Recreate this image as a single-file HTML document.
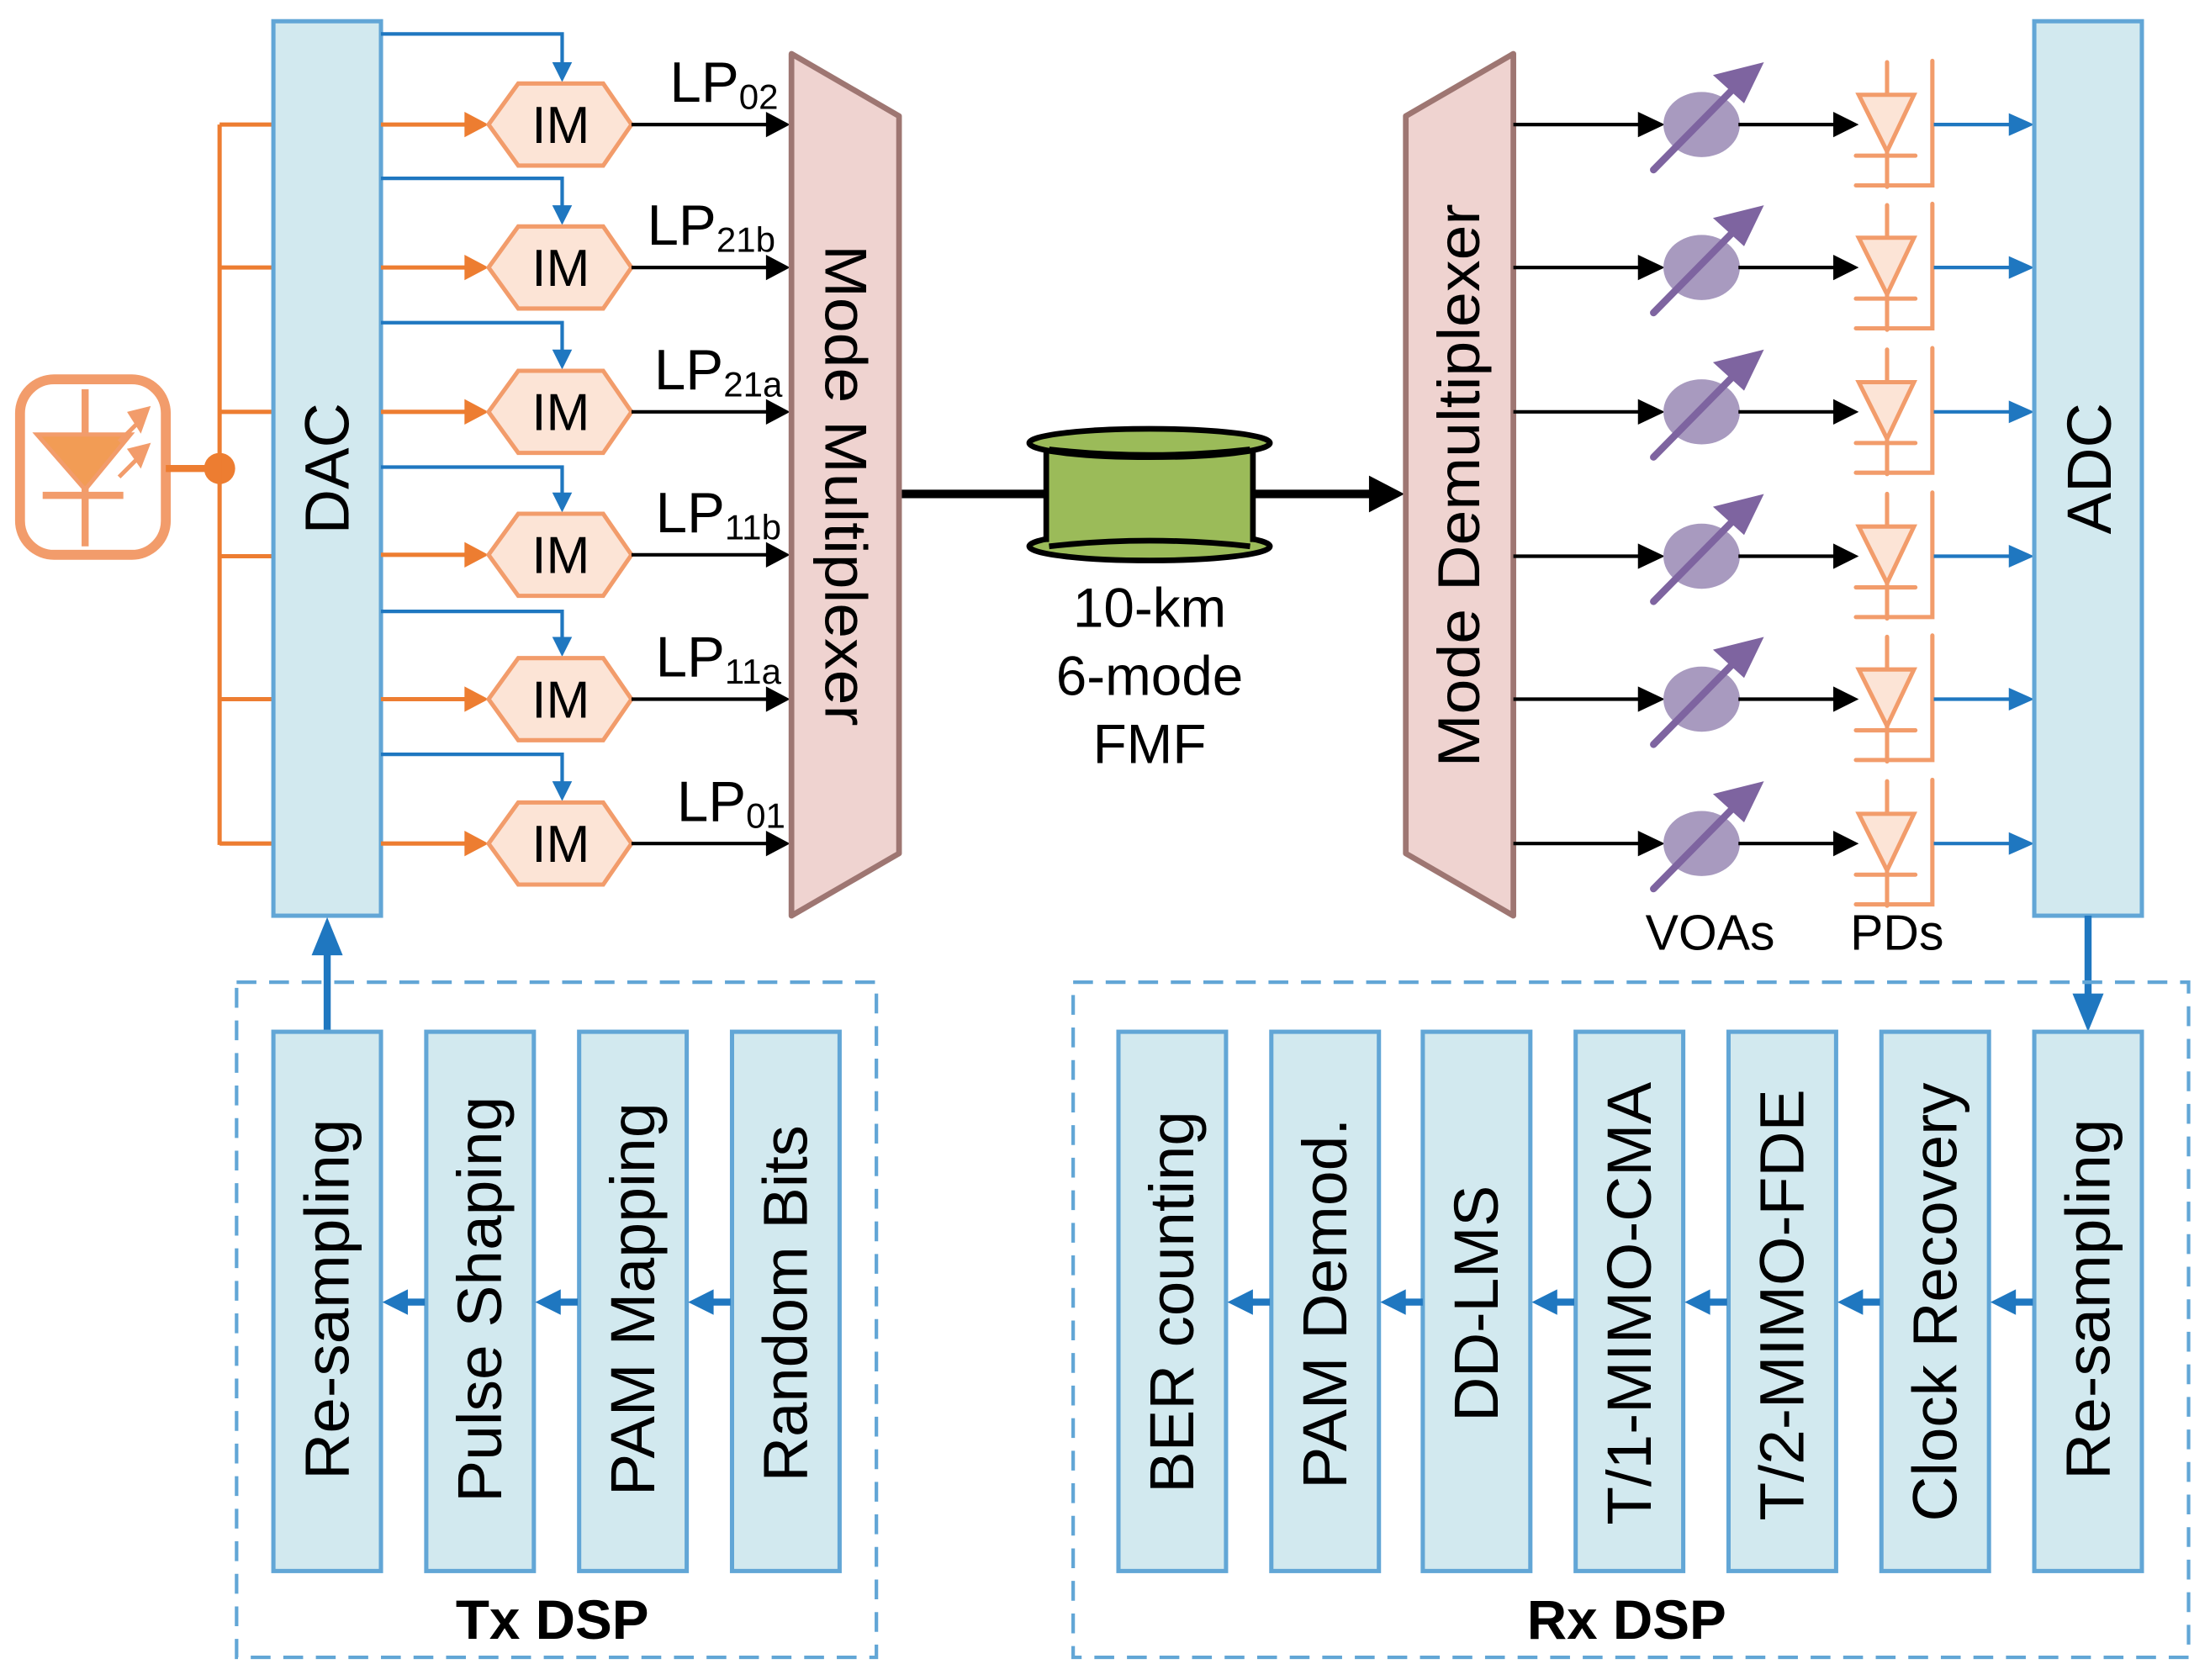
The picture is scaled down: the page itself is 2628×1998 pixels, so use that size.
<!DOCTYPE html>
<html><head><meta charset="utf-8"><style>html,body{margin:0;padding:0;background:#fff}svg{display:block}</style></head>
<body>
<svg width="2628" height="1998" viewBox="0 0 1561 1187" xmlns="http://www.w3.org/2000/svg" font-family="Liberation Sans, Arial, sans-serif">
<rect width="1561" height="1187" fill="#fff"/>

<!-- laser -->
<rect x="14" y="268" width="103" height="124" rx="24" fill="#fff" stroke="#F29C6B" stroke-width="7"/>
<line x1="60" y1="275" x2="60" y2="386" stroke="#F29C6B" stroke-width="5"/>
<path d="M26,307 L92,307 L60,346 Z" fill="#F29C55" stroke="#F29C6B" stroke-width="3"/>
<line x1="30" y1="350" x2="87" y2="350" stroke="#F29C6B" stroke-width="5"/>
<path d="M84,312 L97,299 M92,292 L104,289 L99,303 Z" stroke="#F29C6B" stroke-width="3" fill="#F29C6B"/>
<path d="M84,337 L97,324 M92,318 L104,315 L99,328 Z" stroke="#F29C6B" stroke-width="3" fill="#F29C6B"/>
<line x1="117" y1="331" x2="155" y2="331" stroke="#ED7D31" stroke-width="5"/>
<circle cx="155" cy="331" r="11" fill="#ED7D31"/>
<line x1="155" y1="88" x2="155" y2="597" stroke="#ED7D31" stroke-width="3"/>
<g stroke="#ED7D31" stroke-width="3">
<line x1="155" y1="88" x2="193" y2="88"/><line x1="155" y1="189" x2="193" y2="189"/><line x1="155" y1="291" x2="193" y2="291"/>
<line x1="155" y1="393" x2="193" y2="393"/><line x1="155" y1="494" x2="193" y2="494"/><line x1="155" y1="596" x2="193" y2="596"/>
</g>

<!-- DAC -->
<rect x="193" y="15" width="76" height="632" fill="#D2E9EF" stroke="#62A6D6" stroke-width="3"/>
<text transform="translate(246,331) rotate(-90)" text-anchor="middle" font-size="44">DAC</text>

<g font-size="37">
<g transform="translate(0,88)">
<line x1="269" y1="0" x2="330" y2="0" stroke="#ED7D31" stroke-width="3"/><path d="M328,-9 L345,0 L328,9z" fill="#ED7D31"/>
<polyline points="269,-64 397,-64 397,-44" fill="none" stroke="#1F77C0" stroke-width="2.5"/><path d="M390,-44 L404,-44 L397,-30z" fill="#1F77C0"/>
<polygon points="345,0 366,-29 426,-29 446,0 426,29 366,29" fill="#FCE4D6" stroke="#F29C6B" stroke-width="3"/>
<text x="396" y="13" text-anchor="middle">IM</text>
<line x1="446" y1="0" x2="543" y2="0" stroke="#000" stroke-width="2.5"/><path d="M541,-9 L558,0 L541,9z"/>
<text x="473" y="-16" font-size="40">LP<tspan font-size="25" dy="5">02</tspan></text>
</g>
<g transform="translate(0,189)">
<line x1="269" y1="0" x2="330" y2="0" stroke="#ED7D31" stroke-width="3"/><path d="M328,-9 L345,0 L328,9z" fill="#ED7D31"/>
<polyline points="269,-63 397,-63 397,-43" fill="none" stroke="#1F77C0" stroke-width="2.5"/><path d="M390,-44 L404,-44 L397,-30z" fill="#1F77C0"/>
<polygon points="345,0 366,-29 426,-29 446,0 426,29 366,29" fill="#FCE4D6" stroke="#F29C6B" stroke-width="3"/>
<text x="396" y="13" text-anchor="middle">IM</text>
<line x1="446" y1="0" x2="543" y2="0" stroke="#000" stroke-width="2.5"/><path d="M541,-9 L558,0 L541,9z"/>
<text x="457" y="-16" font-size="40">LP<tspan font-size="25" dy="5">21b</tspan></text>
</g>
<g transform="translate(0,291)">
<line x1="269" y1="0" x2="330" y2="0" stroke="#ED7D31" stroke-width="3"/><path d="M328,-9 L345,0 L328,9z" fill="#ED7D31"/>
<polyline points="269,-63 397,-63 397,-43" fill="none" stroke="#1F77C0" stroke-width="2.5"/><path d="M390,-44 L404,-44 L397,-30z" fill="#1F77C0"/>
<polygon points="345,0 366,-29 426,-29 446,0 426,29 366,29" fill="#FCE4D6" stroke="#F29C6B" stroke-width="3"/>
<text x="396" y="13" text-anchor="middle">IM</text>
<line x1="446" y1="0" x2="543" y2="0" stroke="#000" stroke-width="2.5"/><path d="M541,-9 L558,0 L541,9z"/>
<text x="462" y="-16" font-size="40">LP<tspan font-size="25" dy="5">21a</tspan></text>
</g>
<g transform="translate(0,392)">
<line x1="269" y1="0" x2="330" y2="0" stroke="#ED7D31" stroke-width="3"/><path d="M328,-9 L345,0 L328,9z" fill="#ED7D31"/>
<polyline points="269,-62 397,-62 397,-43" fill="none" stroke="#1F77C0" stroke-width="2.5"/><path d="M390,-44 L404,-44 L397,-30z" fill="#1F77C0"/>
<polygon points="345,0 366,-29 426,-29 446,0 426,29 366,29" fill="#FCE4D6" stroke="#F29C6B" stroke-width="3"/>
<text x="396" y="13" text-anchor="middle">IM</text>
<line x1="446" y1="0" x2="543" y2="0" stroke="#000" stroke-width="2.5"/><path d="M541,-9 L558,0 L541,9z"/>
<text x="463" y="-16" font-size="40">LP<tspan font-size="25" dy="5">11b</tspan></text>
</g>
<g transform="translate(0,494)">
<line x1="269" y1="0" x2="330" y2="0" stroke="#ED7D31" stroke-width="3"/><path d="M328,-9 L345,0 L328,9z" fill="#ED7D31"/>
<polyline points="269,-62 397,-62 397,-43" fill="none" stroke="#1F77C0" stroke-width="2.5"/><path d="M390,-44 L404,-44 L397,-30z" fill="#1F77C0"/>
<polygon points="345,0 366,-29 426,-29 446,0 426,29 366,29" fill="#FCE4D6" stroke="#F29C6B" stroke-width="3"/>
<text x="396" y="13" text-anchor="middle">IM</text>
<line x1="446" y1="0" x2="543" y2="0" stroke="#000" stroke-width="2.5"/><path d="M541,-9 L558,0 L541,9z"/>
<text x="463" y="-16" font-size="40">LP<tspan font-size="25" dy="5">11a</tspan></text>
</g>
<g transform="translate(0,596)">
<line x1="269" y1="0" x2="330" y2="0" stroke="#ED7D31" stroke-width="3"/><path d="M328,-9 L345,0 L328,9z" fill="#ED7D31"/>
<polyline points="269,-63 397,-63 397,-43" fill="none" stroke="#1F77C0" stroke-width="2.5"/><path d="M390,-44 L404,-44 L397,-30z" fill="#1F77C0"/>
<polygon points="345,0 366,-29 426,-29 446,0 426,29 366,29" fill="#FCE4D6" stroke="#F29C6B" stroke-width="3"/>
<text x="396" y="13" text-anchor="middle">IM</text>
<line x1="446" y1="0" x2="543" y2="0" stroke="#000" stroke-width="2.5"/><path d="M541,-9 L558,0 L541,9z"/>
<text x="478" y="-16" font-size="40">LP<tspan font-size="25" dy="5">01</tspan></text>
</g>
</g>

<!-- Mux -->
<polygon points="559,38 635,82 635,603 559,647" fill="#EFD3D0" stroke="#9E7672" stroke-width="4" stroke-linejoin="round"/>
<text transform="translate(583,343) rotate(90)" text-anchor="middle" font-size="42" textLength="340" lengthAdjust="spacingAndGlyphs">Mode Multiplexer</text>

<!-- fiber -->
<line x1="637" y1="349" x2="740" y2="349" stroke="#000" stroke-width="6"/>
<line x1="885" y1="349" x2="970" y2="349" stroke="#000" stroke-width="6"/>
<path d="M967,336 L992,349 L967,362z"/>
<ellipse cx="812" cy="386" rx="85" ry="10" fill="#9BBB59" stroke="#000" stroke-width="4"/>
<rect x="739" y="318" width="146" height="68" fill="#9BBB59"/>
<line x1="739" y1="318" x2="739" y2="383" stroke="#000" stroke-width="4"/>
<line x1="885" y1="318" x2="885" y2="383" stroke="#000" stroke-width="4"/>
<path d="M741,386 Q812,378 883,386" fill="none" stroke="#000" stroke-width="4"/>
<ellipse cx="812" cy="313" rx="85" ry="10" fill="#9BBB59" stroke="#000" stroke-width="4"/>
<path d="M741,318 Q812,326 883,318" fill="none" stroke="#000" stroke-width="5"/>
<g font-size="39" text-anchor="middle">
<text x="812" y="443">10-km</text>
<text x="812" y="491">6-mode</text>
<text x="812" y="539">FMF</text>
</g>

<!-- Demux -->
<polygon points="993,82 1069,38 1069,647 993,603" fill="#EFD3D0" stroke="#9E7672" stroke-width="4" stroke-linejoin="round"/>
<text transform="translate(1045,343) rotate(-90)" text-anchor="middle" font-size="42" textLength="398" lengthAdjust="spacingAndGlyphs">Mode Demultiplexer</text>

<!-- right rows -->
<g id="rr">
<g transform="translate(0,88)">
<line x1="1069" y1="0" x2="1160" y2="0" stroke="#000" stroke-width="2.5"/><path d="M1157,-9 L1176,0 L1157,9z"/>
<ellipse cx="1202" cy="0" rx="27" ry="23" fill="#A89ABF"/>
<line x1="1228" y1="0" x2="1298" y2="0" stroke="#000" stroke-width="2.5"/><path d="M1295,-9 L1313,0 L1295,9z"/>
<line x1="1168" y1="32" x2="1232" y2="-33" stroke="#7E64A0" stroke-width="5" stroke-linecap="round"/>
<path d="M1246,-44 L1210,-35 L1232,-15z" fill="#7E64A0"/>
<g stroke="#F29C6B" stroke-width="3" fill="none" stroke-linecap="round">
<line x1="1333" y1="-44" x2="1333" y2="44"/><polygon points="1313,-21 1352,-21 1333,19" fill="#FCE4D6"/>
<line x1="1311" y1="22" x2="1353" y2="22"/><polyline points="1311,43 1365,43 1365,-45"/>
</g>
<line x1="1366" y1="0" x2="1422" y2="0" stroke="#1F77C0" stroke-width="2.5"/><path d="M1419,-8 L1437,0 L1419,8z" fill="#1F77C0"/>
</g>
</g>
<use href="#rr" y="101"/>
<use href="#rr" y="203"/>
<use href="#rr" y="305"/>
<use href="#rr" y="406"/>
<use href="#rr" y="508"/>
<text x="1208" y="671" text-anchor="middle" font-size="35">VOAs</text>
<text x="1340" y="671" text-anchor="middle" font-size="35">PDs</text>

<!-- ADC -->
<rect x="1437" y="15" width="76" height="632" fill="#D2E9EF" stroke="#62A6D6" stroke-width="3"/>
<text transform="translate(1491,331) rotate(-90)" text-anchor="middle" font-size="44">ADC</text>

<!-- vertical connectors -->
<line x1="1475" y1="647" x2="1475" y2="705" stroke="#1F77C0" stroke-width="5"/>
<path d="M1464,702 L1486,702 L1475,729z" fill="#1F77C0"/>
<line x1="231" y1="729" x2="231" y2="672" stroke="#1F77C0" stroke-width="5"/>
<path d="M220,675 L242,675 L231,648z" fill="#1F77C0"/>

<!-- Tx DSP -->
<rect x="167" y="694" width="452" height="477" fill="none" stroke="#62A6D6" stroke-width="2.5" stroke-dasharray="14,9"/>
<g fill="#D2E9EF" stroke="#62A6D6" stroke-width="3">
<rect x="193" y="729" width="76" height="381"/><rect x="301" y="729" width="76" height="381"/>
<rect x="409" y="729" width="76" height="381"/><rect x="517" y="729" width="76" height="381"/>
</g>
<g font-size="44" text-anchor="middle">
<text transform="translate(246,918) rotate(-90)" textLength="255" lengthAdjust="spacingAndGlyphs">Re-sampling</text>
<text transform="translate(354,918) rotate(-90)" textLength="287" lengthAdjust="spacingAndGlyphs">Pulse Shaping</text>
<text transform="translate(462,918) rotate(-90)" textLength="278" lengthAdjust="spacingAndGlyphs">PAM Mapping</text>
<text transform="translate(570,921) rotate(-90)" textLength="252" lengthAdjust="spacingAndGlyphs">Random Bits</text>
</g>
<g id="la">
<line x1="286" y1="920" x2="300" y2="920" stroke="#1F77C0" stroke-width="5"/><path d="M288,911 L270,920 L288,929z" fill="#1F77C0"/>
</g>
<use href="#la" x="108"/><use href="#la" x="216"/>
<text x="390" y="1158" text-anchor="middle" font-size="39" font-weight="bold">Tx DSP</text>

<!-- Rx DSP -->
<rect x="758" y="694" width="788" height="477" fill="none" stroke="#62A6D6" stroke-width="2.5" stroke-dasharray="14,9"/>
<g fill="#D2E9EF" stroke="#62A6D6" stroke-width="3">
<rect x="790" y="729" width="76" height="381"/><rect x="898" y="729" width="76" height="381"/>
<rect x="1005" y="729" width="76" height="381"/><rect x="1113" y="729" width="76" height="381"/>
<rect x="1221" y="729" width="76" height="381"/><rect x="1329" y="729" width="76" height="381"/>
<rect x="1437" y="729" width="76" height="381"/>
</g>
<g font-size="44" text-anchor="middle">
<text transform="translate(843,920) rotate(-90)" textLength="270" lengthAdjust="spacingAndGlyphs">BER counting</text>
<text transform="translate(951,921) rotate(-90)" textLength="262" lengthAdjust="spacingAndGlyphs">PAM Demod.</text>
<text transform="translate(1058,921) rotate(-90)" textLength="167" lengthAdjust="spacingAndGlyphs">DD-LMS</text>
<text transform="translate(1166,921) rotate(-90)" textLength="313" lengthAdjust="spacingAndGlyphs">T/1-MIMO-CMA</text>
<text transform="translate(1274,922) rotate(-90)" textLength="305" lengthAdjust="spacingAndGlyphs">T/2-MIMO-FDE</text>
<text transform="translate(1382,920) rotate(-90)" textLength="310" lengthAdjust="spacingAndGlyphs">Clock Recovery</text>
<text transform="translate(1490,918) rotate(-90)" textLength="255" lengthAdjust="spacingAndGlyphs">Re-sampling</text>
</g>
<use href="#la" x="597"/><use href="#la" x="705"/><use href="#la" x="812"/>
<use href="#la" x="920"/><use href="#la" x="1028"/><use href="#la" x="1136"/>
<text x="1149" y="1158" text-anchor="middle" font-size="39" font-weight="bold">Rx DSP</text>
</svg>
</body></html>
